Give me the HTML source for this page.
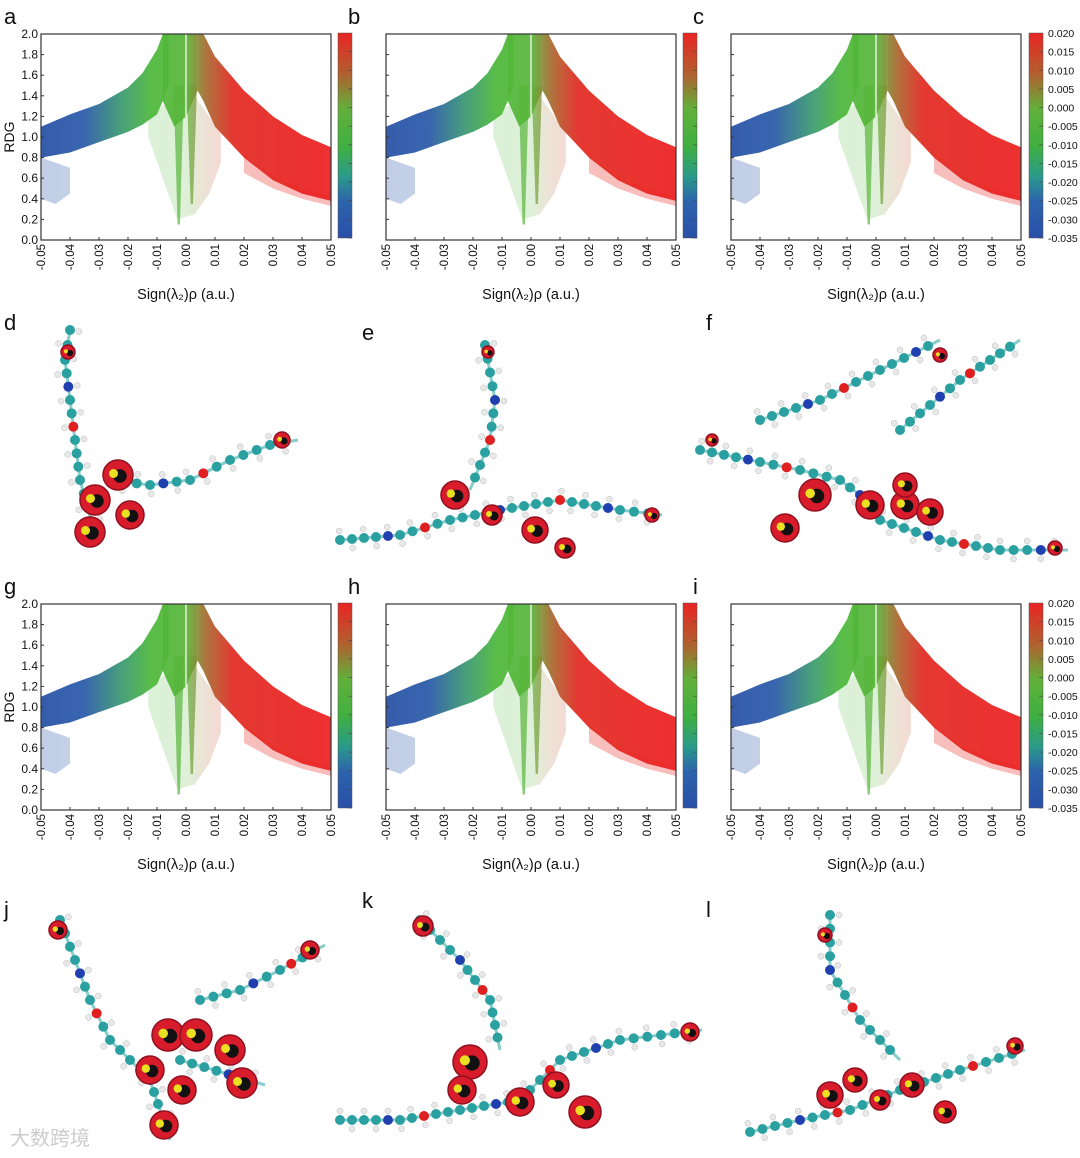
<!DOCTYPE html>
<html><head><meta charset="utf-8"><style>
html,body{margin:0;padding:0;background:#fff}
svg{display:block;font-family:"Liberation Sans",sans-serif}
</style></head><body>
<svg id="fig" width="1080" height="1158" viewBox="0 0 1080 1158">
<defs>
<linearGradient id="cbar" x1="0" x2="0" y1="1" y2="0">
<stop offset="0" stop-color="#2a4fa8"/><stop offset="0.18" stop-color="#2c64ac"/>
<stop offset="0.3" stop-color="#2a9a8a"/><stop offset="0.45" stop-color="#40b040"/>
<stop offset="0.63" stop-color="#62b03a"/><stop offset="0.8" stop-color="#b0602e"/>
<stop offset="1" stop-color="#ea2424"/>
</linearGradient>
</defs>
<g id="plots"></g>
<g id="mols"></g>
<text x="10" y="1145" font-size="20" fill="#ccc" font-family="Liberation Sans, Noto Sans CJK SC, sans-serif">大数跨境</text>
</svg>
<script>
// data arrays (x in a.u., RDG)
const wingX   = [-0.05,-0.04,-0.03,-0.02,-0.015,-0.01,-0.008,-0.006];
const wingLow = [0.80, 0.85, 0.95, 1.05, 1.12, 1.22, 1.35, 1.50];
const wingHigh= [1.10, 1.22, 1.32, 1.48, 1.62, 1.85, 2.0, 2.0];
const rWingX   = [0.004,0.006,0.01,0.02,0.03,0.04,0.05];
const rWingLow = [1.45, 1.35, 1.10, 0.80, 0.58, 0.45, 0.38];
const rWingHigh= [2.0, 2.0, 1.78, 1.45, 1.20, 1.02, 0.90];
const coreX = [-0.008,-0.004,0.0,0.004];
const coreLow = [1.35,1.1,1.2,1.45];
const sparseGreenX = [-0.013,-0.008,-0.003,0.003,0.008,0.012];
const sparseGreenLow = [1.0,0.6,0.2,0.25,0.45,0.75];
const sparseGreenHigh = [1.2,1.3,1.4,1.4,1.2,1.05];
const blueOutX = [-0.05,-0.045,-0.04];
const blueOutLow = [0.4,0.35,0.45];
const blueOutHigh = [0.8,0.75,0.7];
const redOutX = [0.02,0.03,0.04,0.05];
const redOutLow = [0.65,0.5,0.4,0.33];
const redOutHigh = [0.82,0.62,0.5,0.42];
const spikeX = [-0.0025, 0.0020];
const spikeMin = [0.15, 0.35];
const xTicks = [-0.05,-0.04,-0.03,-0.02,-0.01,0.00,0.01,0.02,0.03,0.04,0.05];
const yTicks = [0.0,0.2,0.4,0.6,0.8,1.0,1.2,1.4,1.6,1.8,2.0];
const cbarLabels = ["0.020","0.015","0.010","0.005","0.000","-0.005","-0.010","-0.015","-0.020","-0.025","-0.030","-0.035"];

const NS="http://www.w3.org/2000/svg";
function mk(tag,attrs,parent){const e=document.createElementNS(NS,tag);for(const k in attrs)e.setAttribute(k,attrs[k]);parent.appendChild(e);return e;}
const plots=document.getElementById('plots');
const panels=[{l:'a',x:41,y:34,yl:true,cb:false},{l:'b',x:386,y:34,yl:false,cb:false},{l:'c',x:731,y:34,yl:false,cb:true},
{l:'g',x:41,y:604,yl:true,cb:false},{l:'h',x:386,y:604,yl:false,cb:false},{l:'i',x:731,y:604,yl:false,cb:true}];
const W=290,H=206;
panels.forEach((p,pi)=>{
  const g=mk('g',{},plots);
  
  
  const sx=v=>p.x+(v+0.05)/0.1*W, sy=v=>p.y+H-v/2*H;
  const cid='clip'+pi;
  const cp=mk('clipPath',{id:cid},g); mk('rect',{x:p.x,y:p.y,width:W,height:H},cp);
  const dg=mk('g',{'clip-path':'url(#'+cid+')'},g);
  const gid='gw'+pi;
  const gr=mk('linearGradient',{id:gid,gradientUnits:'userSpaceOnUse',x1:p.x,x2:p.x+W,y1:0,y2:0},g);
  [['0','#2650a6'],['0.15','#2a5aa8'],['0.28','#3a9a70'],['0.38','#4cb83a'],['0.5','#5ab53a'],['0.57','#a86a30'],['0.66','#e22a22'],['1','#ec2020']].forEach(s=>mk('stop',{offset:s[0],'stop-color':s[1]},gr));
  function band(xs,lo,hi,name,op){
    const pts=xs.map((x,i)=>sx(x)+','+sy(hi[i])).concat(xs.slice().reverse().map((x,i)=>sx(x)+','+sy(lo[xs.length-1-i])));
    const e=mk('polygon',{points:pts.join(' '),fill:'url(#'+gid+')',opacity:op},dg);
    
  }
  band(sparseGreenX,sparseGreenLow,sparseGreenHigh,'sparse-green-points',0.2);
  band(blueOutX,blueOutLow,blueOutHigh,'blue-outlier-points',0.28);
  band(redOutX,redOutLow,redOutHigh,'red-outlier-points',0.3);
  band(wingX,wingLow,wingHigh,'left-wing-points',0.93);
  band(rWingX,rWingLow,rWingHigh,'right-wing-points',0.93);
  band(coreX,coreLow,coreX.map(()=>2.0),'core-points',0.93);
  spikeX.forEach((x,i)=>{
    const s=mk('polygon',{points:[sx(x-0.0018)+','+sy(1.5),sx(x+0.0018)+','+sy(1.5),sx(x+0.0004)+','+sy(spikeMin[i]),sx(x-0.0004)+','+sy(spikeMin[i])].join(' '),fill:'url(#'+gid+')',opacity:0.7},dg);
    
  });
  const gap=mk('line',{x1:sx(0),x2:sx(0),y1:p.y,y2:sy(1.2),stroke:'#fff','stroke-width':1.5,opacity:0.8},dg);
  
  const box=mk('rect',{x:p.x,y:p.y,width:W,height:H,fill:'none',stroke:'#333','stroke-width':1.2},g);
  
  xTicks.forEach(t=>{
    const X=sx(t);
    mk('line',{x1:X,x2:X,y1:p.y+H,y2:p.y+H-3,stroke:'#333'},g);
    const tx=mk('text',{x:0,y:0,'font-size':11.5,'text-anchor':'end',transform:'translate('+(X+4)+','+(p.y+H+4)+') rotate(-90)',fill:'#111'},g);
    tx.textContent=t.toFixed(2);
    
  });
  yTicks.forEach(t=>{
    const Y=sy(t);
    mk('line',{x1:p.x,x2:p.x+3,y1:Y,y2:Y,stroke:'#333'},g);
    if(p.yl){const ty=mk('text',{x:p.x-3,y:Y+4,'font-size':12,'text-anchor':'end',fill:'#111'},g);ty.textContent=t.toFixed(1);
      }
  });
  if(p.yl){const yt=mk('text',{x:0,y:0,'font-size':14,'text-anchor':'middle',transform:'translate(14,'+(p.y+H/2)+') rotate(-90)',fill:'#111'},g);yt.textContent='RDG';
    }
  const xt=mk('text',{x:p.x+W/2,y:p.y+H+59,'font-size':14.5,'text-anchor':'middle',fill:'#111'},g);
  xt.textContent='Sign(λ₂)ρ (a.u.)';
  
  const cbx=p.x+W+(p.cb?8:7);
  const cb=mk('rect',{x:cbx,y:p.y-1,width:14,height:H-1,fill:'url(#cbar)',stroke:'#555','stroke-width':0.5},g);
  
  for(let k=1;k<12;k++) mk('line',{x1:cbx+10,x2:cbx+14,y1:p.y-1+k*(H-1)/11,y2:p.y-1+k*(H-1)/11,stroke:'#444','stroke-width':0.6},g);
  if(p.cb){cbarLabels.forEach((s,k)=>{const t=mk('text',{x:cbx+19,y:p.y+3+k*(H-1)/11,'font-size':10.5,fill:'#111'},g);t.textContent=s;
    });}
  const lt=mk('text',{x:p.x-37+(pi%3?-1:0),y:p.y-10,'font-size':22,fill:'#111'},g);lt.textContent=p.l;
  
});
// molecule panels
const mols=document.getElementById('mols');
const molPanels=[
 {l:'d',lx:4,ly:330,chains:[[[70,330],[65,360],[70,400],[75,440],[80,480],[95,535]],[[110,480],[150,485],[190,480],[230,460],[270,445],[298,440]]],blobs:[[118,475,15],[95,500,15],[130,515,14],[90,532,15],[68,352,7],[282,440,8]]},
 {l:'e',lx:362,ly:340,chains:[[[485,345],[495,400],[490,440],[470,490]],[[340,540],[400,535],[450,520],[500,510],[560,500],[620,510],[662,515]]],blobs:[[455,495,14],[492,515,10],[535,530,13],[565,548,10],[488,352,6],[652,515,7]]},
 {l:'f',lx:706,ly:330,chains:[[[700,450],[760,462],[800,470],[840,480],[880,510]],[[760,420],[820,400],[880,370],[940,340]],[[900,430],[960,380],[1020,340]],[[880,520],[940,540],[1000,550],[1068,550]]],blobs:[[815,495,16],[785,528,14],[870,505,14],[905,505,14],[930,512,13],[905,485,12],[940,355,7],[1055,548,7],[712,440,6]]},
 {l:'j',lx:4,ly:917,chains:[[[60,920],[75,960],[90,1000],[110,1040],[150,1080],[170,1140]],[[200,1000],[240,990],[280,970],[325,945]],[[180,1060],[265,1085]]],blobs:[[168,1035,16],[196,1035,16],[230,1050,15],[150,1070,14],[182,1090,14],[242,1083,15],[164,1125,14],[58,930,9],[310,950,9]]},
 {l:'k',lx:362,ly:908,chains:[[[420,920],[460,960],[490,1000],[500,1050]],[[340,1120],[400,1120],[460,1110],[520,1100],[560,1060],[620,1040],[702,1030]]],blobs:[[470,1062,17],[462,1090,14],[520,1102,14],[556,1085,13],[585,1112,16],[423,926,10],[690,1032,9]]},
 {l:'l',lx:706,ly:917,chains:[[[830,915],[830,970],[860,1020],[900,1060]],[[750,1132],[800,1120],[850,1110],[900,1090],[960,1070],[1025,1050]]],blobs:[[830,1095,13],[855,1080,12],[880,1100,10],[912,1085,12],[945,1112,11],[825,935,7],[1015,1046,8]]}
];
molPanels.forEach(m=>{
  const g=mk('g',{},mols);
  
  
  const lt=mk('text',{x:m.lx,y:m.ly,'font-size':22,fill:'#111'},g);lt.textContent=m.l;
  
  m.chains.forEach(c=>{
    let n=0;
    for(let i=0;i<c.length-1;i++){
      const [x1,y1]=c[i],[x2,y2]=c[i+1];const L=Math.hypot(x2-x1,y2-y1);const steps=Math.max(1,Math.round(L/13));
      mk('line',{x1:x1,y1:y1,x2:x2,y2:y2,stroke:'#8cc',"stroke-width":3},g);
      for(let s=0;s<steps;s++){
        const t=s/steps,x=x1+(x2-x1)*t,y=y1+(y2-y1)*t;const nx=-(y2-y1)/L*9,ny=(x2-x1)/L*9;
        const sgn=n%2?1:-1;
        mk('circle',{cx:x+nx*sgn,cy:y+ny*sgn,r:3,fill:'#e8e8e8',stroke:'#bbb','stroke-width':0.5},g);
        const col=(n%9==4)?'#2040b0':(n%11==7)?'#e02020':'#2aa0a0';
        mk('circle',{cx:x,cy:y,r:5,fill:col},g);n++;
      }
    }
  });
  m.blobs.forEach(b=>{
    mk('circle',{cx:b[0],cy:b[1],r:b[2],fill:'#d81c2c',stroke:'#901020','stroke-width':1.5},g);
    mk('circle',{cx:b[0]+2,cy:b[1]+1,r:b[2]*0.45,fill:'#111'},g);
    mk('circle',{cx:b[0]-b[2]*0.3,cy:b[1]-b[2]*0.1,r:b[2]*0.3,fill:'#e8e020'},g);
  });
});
</script>
</body></html>
